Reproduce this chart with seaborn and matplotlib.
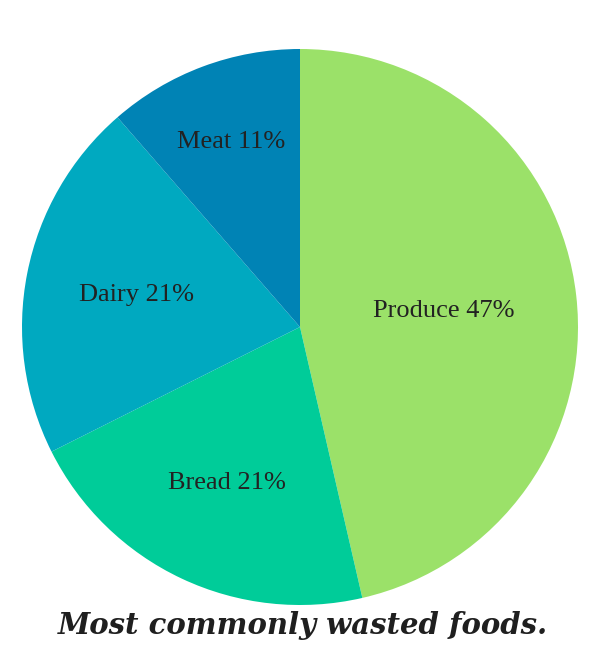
import seaborn as sns
import matplotlib.pyplot as plt
import numpy as np

# Dados
categorias = ["Produce", "Bread", "Dairy", "Meat"]
valores = [46.4, 21.2, 21.0, 11.4]
rotulos_pct = ["47%", "21%", "21%", "11%"]
cores = ["#9be169", "#00cc99", "#00a9c0", "#0083b5"]
distancias = [0.52, 0.62, 0.6, 0.71]

sns.set_theme(style="white")
plt.rcParams["font.family"] = ["Liberation Serif", "DejaVu Serif"]

fig = plt.figure(figsize=(6, 6.5), dpi=100)
ax = fig.add_axes([22 / 600, 45 / 650, 556 / 600, 556 / 650])

wedges, _ = ax.pie(valores, colors=cores, startangle=90, counterclock=False,
                   wedgeprops={"linewidth": 0})

for w, cat, pct, d in zip(wedges, categorias, rotulos_pct, distancias):
    ang = np.deg2rad((w.theta1 + w.theta2) / 2)
    ax.text(d * np.cos(ang), d * np.sin(ang), f"{cat} {pct}",
            ha="center", va="center", fontsize=19, color="#222222")

ax.set_aspect("equal")
ax.set_xlim(-1, 1)
ax.set_ylim(-1, 1)

fig.text(0.505, 1 - 625 / 650, "Most commonly wasted foods.", ha="center", va="center",
         fontsize=21, fontweight="bold", style="italic", color="#1f1f1f",
         family="DejaVu Serif")

plt.savefig("out.png", dpi=100)
